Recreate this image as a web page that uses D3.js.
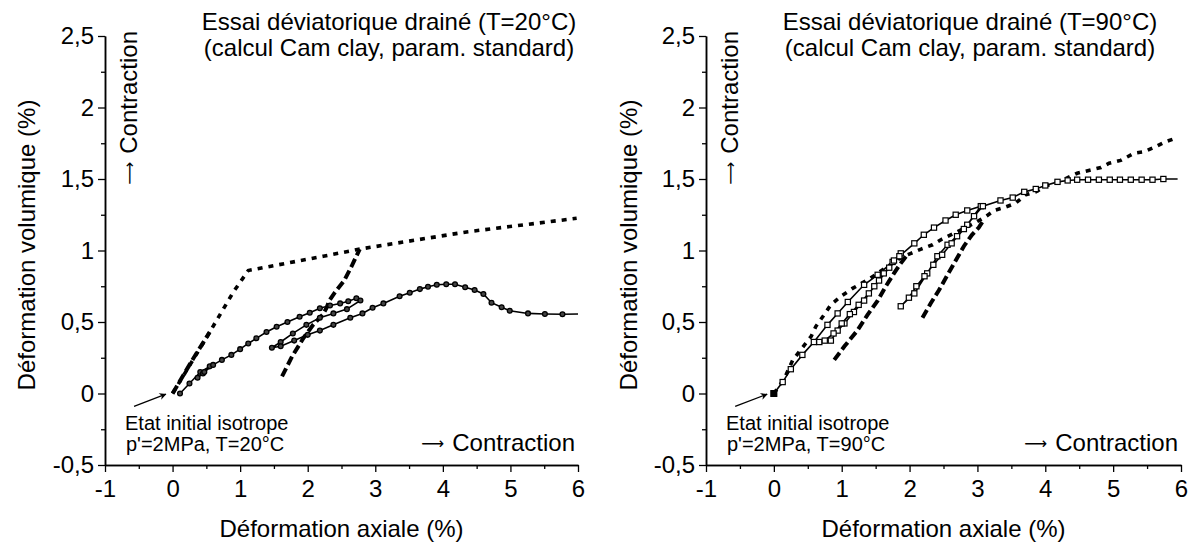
<!DOCTYPE html>
<html><head><meta charset="utf-8">
<script src="https://cdn.jsdelivr.net/npm/d3@7"></script>
<style>
html,body{margin:0;padding:0;background:#fff;}
svg text{font-family:"Liberation Sans",Arial,Helvetica,sans-serif;fill:#000;}
svg tspan.arr{font-family:"DejaVu Sans";fill:#000;}
</style></head>
<body><svg id="c" width="1196" height="543"></svg>
<script>
// ---------- data ----------
const xTicks = [-1, 0, 1, 2, 3, 4, 5, 6];
const xTickLabels = ["-1", "0", "1", "2", "3", "4", "5", "6"];
const yTicks = [-0.5, 0, 0.5, 1, 1.5, 2, 2.5];
const yTickLabels = ["-0,5", "0", "0,5", "1", "1,5", "2", "2,5"];
const xMinor = [-0.5, 0.5, 1.5, 2.5, 3.5, 4.5, 5.5];
const yMinor = [-0.25, 0.25, 0.75, 1.25, 1.75, 2.25];

const xTitle = "Déformation axiale (%)";
const yTitle = "Déformation volumique (%)";
const titles20 = ["Essai déviatorique drainé (T=20°C)", "(calcul Cam clay, param. standard)"];
const titles90 = ["Essai déviatorique drainé (T=90°C)", "(calcul Cam clay, param. standard)"];
const init20 = ["Etat initial isotrope", "p'=2MPa, T=20°C"];
const init90 = ["Etat initial isotrope", "p'=2MPa, T=90°C"];
const arrowGlyph = "⟶";
const contractionWord = "Contraction";

// T=20°C : essai (trait plein + cercles)
const solid20 = [
  [0.11,0],[0.25,0.07],[0.41,0.15],[0.55,0.19],[0.45,0.14],[0.37,0.11],[0.47,0.15],[0.6,0.2],
  [0.73,0.235],[0.87,0.27],[1.0,0.31],[1.12,0.35],[1.24,0.386],[1.39,0.43],[1.54,0.467],[1.7,0.5],
  [1.88,0.537],[2.03,0.565],[2.18,0.596],[2.33,0.615],[2.48,0.63],[2.6,0.645],[2.72,0.666],[2.78,0.65],
  [2.58,0.59],[2.38,0.56],[2.18,0.53],[1.98,0.48],[1.78,0.42],[1.6,0.36],[1.47,0.32],
  [1.6,0.33],[1.8,0.37],[2.0,0.41],[2.18,0.44],[2.38,0.48],[2.63,0.53],[2.81,0.56],[2.96,0.6],
  [3.12,0.63],[3.36,0.68],[3.51,0.705],[3.66,0.73],[3.78,0.747],[3.91,0.76],[4.05,0.764],[4.18,0.764],
  [4.33,0.743],[4.47,0.724],[4.6,0.696],[4.72,0.635],[4.87,0.603],[4.99,0.579],[5.26,0.56],
  [5.51,0.556],[5.77,0.554],[6.0,0.556]
];
// T=20°C : calcul monotone (pointillés)
const dotted20 = [[0,0],[0.45,0.35],[0.9,0.71],[1.12,0.86],[2.23,0.96],[2.77,1.01],[4.35,1.13],[5.98,1.225]];
// T=20°C : calcul, décharge-recharge (tirets)
const dashA20 = [[0,0],[0.3,0.24],[0.55,0.43]];
const dashB20 = [[1.62,0.12],[1.77,0.26],[1.94,0.39],[2.08,0.48],[2.22,0.55],[2.28,0.6],[2.32,0.65],[2.4,0.705],[2.54,0.79],[2.65,0.89],[2.77,1.01]];

// T=90°C : essai (trait plein + carrés)
const solid90 = [
  [0,0],[0.13,0.08],[0.25,0.17],[0.42,0.27],[0.59,0.36],[0.79,0.48],[0.94,0.56],[1.09,0.64],
  [1.33,0.76],[1.53,0.83],[1.75,0.92],[1.87,0.98],
  [1.77,0.93],[1.62,0.84],[1.48,0.75],[1.33,0.65],[1.18,0.57],[1.04,0.49],[0.94,0.44],[0.84,0.37],[0.67,0.36],
  [0.75,0.37],[0.88,0.42],[1.0,0.49],[1.12,0.555],[1.25,0.62],[1.4,0.7],[1.55,0.79],[1.7,0.88],[1.85,0.96],
  [2.07,1.05],[2.21,1.11],[2.36,1.16],[2.53,1.21],[2.68,1.25],[2.85,1.28],[3.05,1.31],
  [2.85,1.18],[2.7,1.1],[2.56,1.04],[2.41,0.96],[2.26,0.84],[2.07,0.7],[1.87,0.61],
  [1.99,0.67],[2.1,0.75],[2.22,0.82],[2.35,0.9],[2.48,0.97],[2.62,1.05],[2.8,1.15],[2.95,1.24],[3.08,1.31],
  [3.34,1.35],[3.52,1.37],[3.69,1.41],[3.86,1.43],[4.0,1.455],[4.18,1.48],[4.33,1.49],[4.47,1.495],
  [4.63,1.495],[4.79,1.495],[4.95,1.495],[5.1,1.495],[5.26,1.495],[5.42,1.495],[5.58,1.495],[5.74,1.5],[5.95,1.5]
];
const dotted90 = [
  [0,0],[0.15,0.1],[0.28,0.235],[0.42,0.32],[0.55,0.4],[0.62,0.47],[0.74,0.55],[0.84,0.62],[0.99,0.68],
  [1.16,0.735],[1.4,0.8],[1.65,0.88],[1.87,0.95],[2.02,0.98],[2.17,1.01],[2.34,1.04],[2.48,1.08],
  [2.7,1.13],[2.95,1.19],[3.1,1.23],[3.25,1.28],[3.39,1.3],[3.56,1.33],[3.71,1.39],[3.86,1.41],
  [4.0,1.45],[4.2,1.48],[4.47,1.54],[4.64,1.56],[4.82,1.58],[4.94,1.61],[5.11,1.63],[5.31,1.68],
  [5.45,1.69],[5.6,1.72],[5.77,1.76],[5.95,1.79]
];
const dashA90 = [[0.89,0.235],[1.04,0.33],[1.23,0.44],[1.38,0.55],[1.53,0.65],[1.65,0.75],[1.77,0.84],[1.87,0.91],[1.95,0.96]];
const dashB90 = [[2.19,0.53],[2.31,0.63],[2.43,0.72],[2.56,0.83],[2.68,0.93],[2.8,1.03],[2.92,1.11],[3.02,1.16],[3.1,1.22]];

// annotation arrow (start, end) in data units
const arrowPts = [[-0.57,-0.09],[-0.1,-0.005]];

// ---------- drawing ----------
const svg = d3.select("#c");
const defs = svg.append("defs");
defs.append("marker").attr("id","ah").attr("viewBox","0 0 10 10").attr("refX",9).attr("refY",5)
  .attr("markerWidth",10).attr("markerHeight",7).attr("markerUnits","userSpaceOnUse").attr("orient","auto")
  .append("path").attr("d","M0,0 L10,5 L0,10 L3,5 Z").attr("fill","#000");

function contractionText(sel){
  sel.append("tspan").attr("class","arr").attr("font-size",16).attr("dy",-2).text(arrowGlyph);
  sel.append("tspan").attr("dx",8).attr("dy",2).text(contractionWord);
}

function panel(cfg){
  const x = d3.scaleLinear().domain([-1,6]).range([cfg.x0, cfg.x1]);
  const y = d3.scaleLinear().domain([-0.5,2.5]).range([465, 36]);
  const g = svg.append("g");

  // axes
  const xa = g.append("g").attr("transform","translate(0,465)")
    .call(d3.axisBottom(x).tickValues(xTicks).tickFormat((d,i)=>xTickLabels[i]).tickSize(7).tickPadding(8).tickSizeOuter(0));
  const xm = g.append("g").attr("transform","translate(0,465)")
    .call(d3.axisBottom(x).tickValues(xMinor).tickFormat("").tickSize(4).tickSizeOuter(0));
  const ya = g.append("g").attr("transform",`translate(${cfg.x0},0)`)
    .call(d3.axisLeft(y).tickValues(yTicks).tickFormat((d,i)=>yTickLabels[i]).tickSize(7).tickPadding(4).tickSizeOuter(0));
  const ym = g.append("g").attr("transform",`translate(${cfg.x0},0)`)
    .call(d3.axisLeft(y).tickValues(yMinor).tickFormat("").tickSize(4).tickSizeOuter(0));
  [xa,xm,ya,ym].forEach(a=>{
    a.selectAll("path").attr("stroke","#000").attr("stroke-width",1.5);
    a.selectAll("line").attr("stroke","#000").attr("stroke-width",1.3);
    a.selectAll("text").attr("font-size",24).attr("font-family","Liberation Sans, Arial, sans-serif").attr("fill","#000");
  });

  const line = d3.line().x(d=>x(d[0])).y(d=>y(d[1]));
  // model curves
  g.append("path").datum(cfg.dotted).attr("d",line).attr("fill","none").attr("stroke","#000")
    .attr("stroke-width",3.6).attr("stroke-dasharray","5,6");
  [cfg.dashA, cfg.dashB].forEach(s=>{
    g.append("path").datum(s).attr("d",line).attr("fill","none").attr("stroke","#000")
      .attr("stroke-width",4).attr("stroke-dasharray","9,4");
  });
  // test curve
  g.append("path").datum(cfg.solid).attr("d",line).attr("fill","none").attr("stroke","#000").attr("stroke-width",1.6);
  const pts = cfg.solid.slice(0, cfg.solid.length-1);
  if(cfg.marker==="circle"){
    g.selectAll(null).data(pts).enter().append("circle")
      .attr("cx",d=>x(d[0])).attr("cy",d=>y(d[1])).attr("r",2.4)
      .attr("fill","#444").attr("stroke","#000").attr("stroke-width",1.3);
  } else {
    g.selectAll(null).data(pts).enter().append("rect")
      .attr("x",d=>x(d[0])-2.6).attr("y",d=>y(d[1])-2.6).attr("width",5.2).attr("height",5.2)
      .attr("fill","#fff").attr("stroke","#000").attr("stroke-width",1.2);
    g.append("rect").attr("x",x(0)-3.5).attr("y",y(0)-3.5).attr("width",7).attr("height",7).attr("fill","#000");
  }

  // arrow to initial state
  g.append("line").attr("x1",x(arrowPts[0][0])).attr("y1",y(arrowPts[0][1]))
    .attr("x2",x(arrowPts[1][0])).attr("y2",y(arrowPts[1][1]))
    .attr("stroke","#000").attr("stroke-width",1.3).attr("marker-end","url(#ah)");

  // texts
  g.append("text").attr("x",cfg.titleCx).attr("y",30).attr("text-anchor","middle").attr("font-size",24).text(cfg.titles[0]);
  g.append("text").attr("x",cfg.titleCx).attr("y",56).attr("text-anchor","middle").attr("font-size",24).text(cfg.titles[1]);
  g.append("text").attr("x",cfg.x0+20).attr("y",430).attr("font-size",20).text(cfg.init[0]);
  g.append("text").attr("x",cfg.x0+21).attr("y",451).attr("font-size",20).text(cfg.init[1]);
  g.append("text").attr("x",cfg.contrX).attr("y",451).attr("text-anchor","end").attr("font-size",24).call(contractionText);
  g.append("text").attr("transform",`translate(${cfg.x0+32},31) rotate(-90)`).attr("text-anchor","end").attr("font-size",24).call(contractionText);
  g.append("text").attr("transform",`translate(${cfg.yTitleX},245) rotate(-90)`).attr("text-anchor","middle").attr("font-size",24).text(yTitle);
  g.append("text").attr("x",(cfg.x0+cfg.x1)/2).attr("y",537).attr("text-anchor","middle").attr("font-size",24).text(xTitle);
}

panel({x0:105, x1:578, titleCx:389, titles:titles20, init:init20, contrX:575, yTitleX:35,
  solid:solid20, dotted:dotted20, dashA:dashA20, dashB:dashB20, marker:"circle"});
panel({x0:706, x1:1181, titleCx:970, titles:titles90, init:init90, contrX:1178, yTitleX:637,
  solid:solid90, dotted:dotted90, dashA:dashA90, dashB:dashB90, marker:"square"});
</script></body></html>
